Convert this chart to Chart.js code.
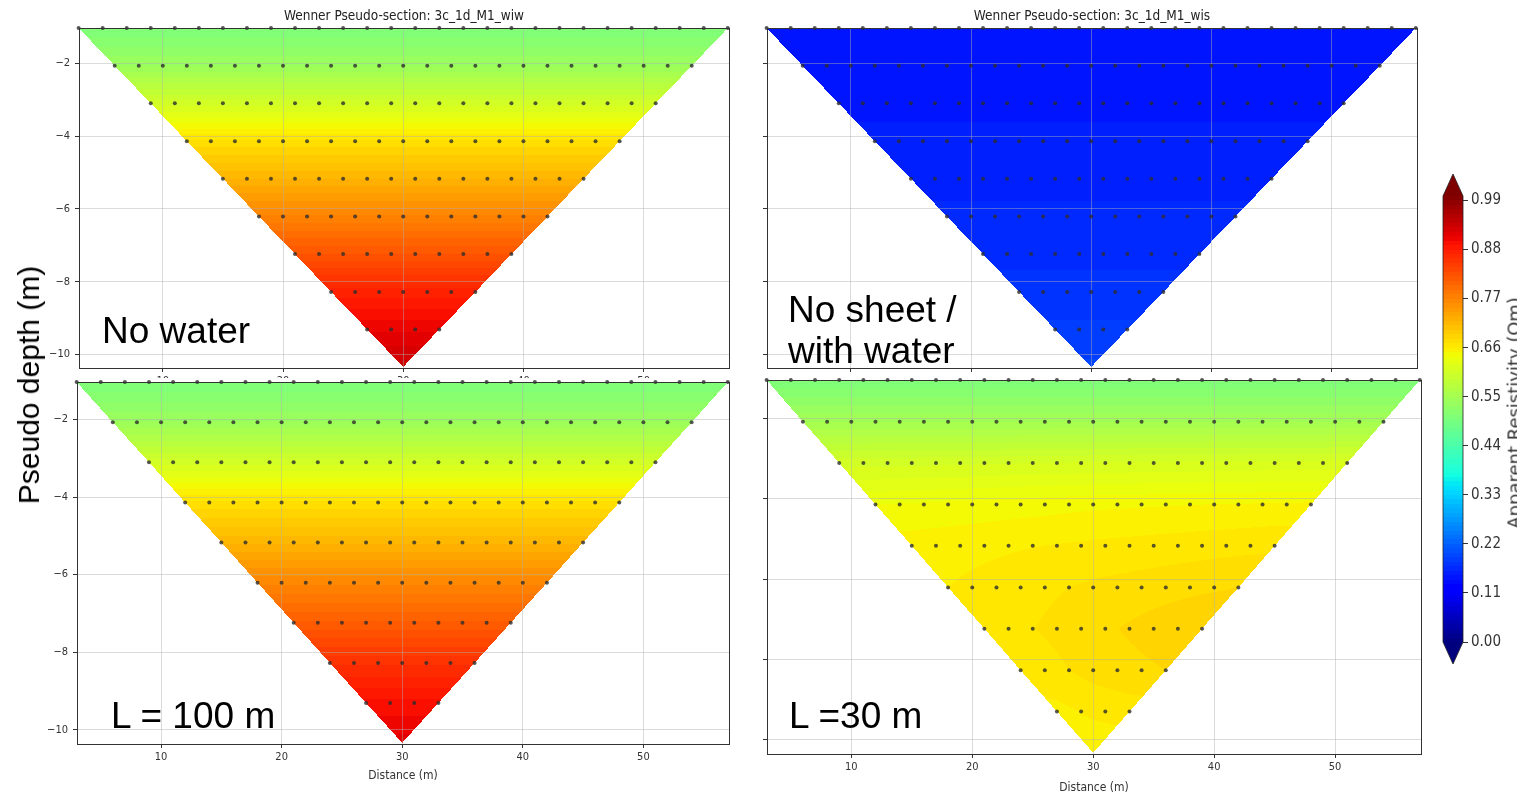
<!DOCTYPE html>
<html>
<head>
<meta charset="utf-8">
<script src="https://cdn.jsdelivr.net/npm/chart.js@4.4.0/dist/chart.umd.min.js"></script>
<style>
  body { margin: 0; background: #fff; width: 1517px; height: 796px; overflow: hidden; position: relative; }
  canvas { position: absolute; }
  .big { position: absolute; font-family: "Liberation Sans", Arial, sans-serif; font-size: 37px; line-height: 37px; color: #000; white-space: nowrap; }
  .rot { position: absolute; white-space: nowrap; transform: translate(-50%, -50%) rotate(-90deg); line-height: 1; }
</style>
</head>
<body>
<canvas id="wiw" width="740" height="378" style="left:0;top:0"></canvas>
<canvas id="wis" width="700" height="378" style="left:740px;top:0"></canvas>
<canvas id="l100" width="740" height="418" style="left:0;top:378px"></canvas>
<canvas id="l30" width="700" height="420" style="left:740px;top:376px"></canvas>
<canvas id="cb" width="97" height="540" style="left:1420px;top:150px"></canvas>

<div class="big" style="left:102px;top:312px">No water</div>
<div class="big" style="left:788px;top:291px">No sheet /</div>
<div class="big" style="left:788px;top:332px">with water</div>
<div class="big" style="left:111px;top:697px">L = 100 m</div>
<div class="big" style="left:789px;top:697px">L =30 m</div>
<div class="rot" style="left:29px;top:385px;font:30px 'Liberation Sans', Arial, sans-serif">Pseudo depth (m)</div>
<div class="rot" style="left:1514px;top:413px;font:18px 'DejaVu Sans', sans-serif;color:#333">Apparent Resistivity (Ωm)</div>

<script>
// measurement rows of the Wenner pseudo-section (row 10 is the apex, no point plotted)
const rowDepth = [-1.03, -2.07, -3.10, -4.14, -5.17, -6.21, -7.24, -8.28, -9.31, -10.34];
const rowFirst = [3, 6, 9, 12, 15, 18, 21, 24, 27, 30];
const rowLast  = [57, 54, 51, 48, 45, 42, 39, 36, 33, 30];
const pointStep = 2;
const dotRows = 9;

// apparent resistivity per row (left end, centre, right end of each row)
const wiwValues  = [0.50, 0.54, 0.605, 0.672, 0.72, 0.772, 0.82, 0.875, 0.908, 0.935];
const wisValues  = [0.142, 0.144, 0.148, 0.152, 0.157, 0.162, 0.167, 0.174, 0.182, 0.192];
const l100Values = [0.50, 0.54, 0.605, 0.672, 0.718, 0.768, 0.812, 0.858, 0.893, 0.915];
const l30Left    = [0.50, 0.55, 0.606, 0.640, 0.655, 0.660, 0.664, 0.662, 0.657, 0.652];
const l30Mid     = [0.50, 0.55, 0.611, 0.648, 0.662, 0.672, 0.677, 0.674, 0.662, 0.652];
const l30Right   = [0.50, 0.55, 0.614, 0.652, 0.668, 0.680, 0.690, 0.680, 0.665, 0.652];

const xTicks = [10, 20, 30, 40, 50];
const yTicks = [-2, -4, -6, -8, -10];
const cbTicks = [0.00, 0.11, 0.22, 0.33, 0.44, 0.55, 0.66, 0.77, 0.88, 0.99];
const cbMax = 1.0;
const levelStep = 0.01;

const tickFont = "'DejaVu Sans Condensed', 'DejaVu Sans', sans-serif";

const panels = {
  wiw:  { title: 'Wenner Pseudo-section: 3c_1d_M1_wiw', left: wiwValues, mid: wiwValues, right: wiwValues,
          w: 740, h: 378, area: { left: 79, top: 28, right: 729, bottom: 368 }, yLabels: true, xTitle: false },
  wis:  { title: 'Wenner Pseudo-section: 3c_1d_M1_wis', left: wisValues, mid: wisValues, right: wisValues,
          w: 700, h: 378, area: { left: 27, top: 28, right: 677, bottom: 368 }, yLabels: false, xTitle: false },
  l100: { title: '', left: l100Values, mid: l100Values, right: l100Values,
          w: 740, h: 418, area: { left: 77, top: 3, right: 729, bottom: 366 }, yLabels: true, xTitle: true, titlePad: 13 },
  l30:  { title: '', left: l30Left, mid: l30Mid, right: l30Right,
          w: 700, h: 420, area: { left: 27, top: 4, right: 681, bottom: 378 }, yLabels: false, xTitle: true, titlePad: 1 }
};

function interp(pts, t) {
  for (let i = 1; i < pts.length; i++) {
    if (t <= pts[i][0]) {
      const [a, ya] = pts[i - 1], [b, yb] = pts[i];
      return ya + (yb - ya) * (t - a) / (b - a);
    }
  }
  return pts[pts.length - 1][1];
}
function jet(t) {
  t = Math.min(1, Math.max(0, t));
  return [
    interp([[0, 0], [0.35, 0], [0.66, 1], [0.89, 1], [1, 0.5]], t) * 255,
    interp([[0, 0], [0.125, 0], [0.375, 1], [0.64, 1], [0.91, 0], [1, 0]], t) * 255,
    interp([[0, 0.5], [0.11, 1], [0.34, 1], [0.65, 0], [1, 0]], t) * 255
  ];
}
const clamp01 = t => Math.min(1, Math.max(0, t));
const centre = rowFirst[rowFirst.length - 1];

function rowValue(p, k, x) {
  const a = rowFirst[k], b = rowLast[k];
  if (x <= centre) {
    const t = a < centre ? clamp01((x - a) / (centre - a)) : 1;
    return p.left[k] + (p.mid[k] - p.left[k]) * t;
  }
  const t = b > centre ? clamp01((x - centre) / (b - centre)) : 0;
  return p.mid[k] + (p.right[k] - p.mid[k]) * t;
}

const fieldPlugin = {
  id: 'field',
  beforeDraw(chart) {
    const ctx = chart.ctx;
    ctx.save();
    ctx.fillStyle = '#fff';
    ctx.fillRect(0, 0, chart.width, chart.height);
    ctx.restore();
    const p = panels[chart.canvas.id];
    if (!p) return;
    const ar = chart.chartArea, xs = chart.scales.x, ys = chart.scales.y;
    const x0 = Math.floor(ar.left), y0 = Math.floor(ar.top);
    const w = Math.ceil(ar.right) - x0, h = Math.ceil(ar.bottom) - y0;
    const img = ctx.createImageData(w, h);
    const d = img.data;
    const last = rowDepth.length - 1;
    for (let j = 0; j < h; j++) {
      const y = ys.getValueForPixel(y0 + j + 0.5);
      let k = 0;
      while (k < last - 1 && y < rowDepth[k + 1]) k++;
      let f = (rowDepth[k] - y) / (rowDepth[k] - rowDepth[k + 1]);
      if (f < 0) f = 0;
      const lo = rowFirst[k] + (rowFirst[k + 1] - rowFirst[k]) * f;
      const hi = rowLast[k] + (rowLast[k + 1] - rowLast[k]) * f;
      for (let i = 0; i < w; i++) {
        const o = (j * w + i) * 4;
        const x = xs.getValueForPixel(x0 + i + 0.5);
        if (f > 1 || x < lo || x > hi) {
          d[o] = d[o + 1] = d[o + 2] = d[o + 3] = 255;
          continue;
        }
        const v = rowValue(p, k, x) * (1 - f) + rowValue(p, k + 1, x) * f;
        const q = (Math.floor(v / levelStep) + 0.5) * levelStep;
        const c = jet(q / cbMax);
        d[o] = c[0]; d[o + 1] = c[1]; d[o + 2] = c[2]; d[o + 3] = 255;
      }
    }
    ctx.putImageData(img, x0, y0);
  },
  afterDraw(chart) {
    const p = panels[chart.canvas.id];
    if (!p) return;
    const ctx = chart.ctx, ar = chart.chartArea;
    ctx.save();
    ctx.strokeStyle = '#333';
    ctx.lineWidth = 1;
    ctx.strokeRect(Math.round(ar.left) + 0.5, Math.round(ar.top) + 0.5,
                   Math.round(ar.right - ar.left), Math.round(ar.bottom - ar.top));
    if (p.title) {
      ctx.fillStyle = '#222';
      ctx.font = "13.5px " + tickFont;
      ctx.textAlign = 'center';
      ctx.textBaseline = 'middle';
      ctx.fillText(p.title, (ar.left + ar.right) / 2, 16);
    }
    ctx.restore();
  }
};

const fmt = v => (v < 0 ? '\u2212' + Math.abs(v) : String(v));
// keep Chart.js from reserving extra room for half-labels at the axis ends
const noPad = s => { s.paddingTop = 0; s.paddingBottom = 0; s.paddingLeft = 0; s.paddingRight = 0; };

function makePanel(id) {
  const p = panels[id];
  const pts = [];
  for (let r = 0; r < dotRows; r++) {
    for (let x = rowFirst[r]; x <= rowLast[r]; x += pointStep) pts.push({ x: x, y: rowDepth[r] });
  }
  return new Chart(document.getElementById(id), {
    type: 'scatter',
    data: {
      datasets: [{
        data: pts,
        pointRadius: 2,
        pointBackgroundColor: 'rgba(45,45,45,0.8)',
        pointBorderWidth: 0,
        clip: false
      }]
    },
    options: {
      responsive: false,
      animation: false,
      events: [],
      layout: { padding: { left: 0, top: p.area.top, right: p.w - p.area.right, bottom: 0 } },
      plugins: { legend: { display: false }, tooltip: { enabled: false } },
      scales: {
        x: {
          type: 'linear', min: 3.03, max: 57.1,
          afterBuildTicks: s => { s.ticks = xTicks.map(v => ({ value: v })); },
          afterFit: s => { s.height = p.h - p.area.bottom; noPad(s); },
          border: { display: false },
          grid: { color: 'rgba(176,176,176,0.45)', tickColor: '#333', tickLength: 4 },
          ticks: { autoSkip: false, maxRotation: 0, padding: 3, color: '#333',
                   font: { family: tickFont, size: 11 }, callback: v => String(v) },
          title: { display: p.xTitle, text: 'Distance (m)', color: '#333',
                   font: { family: tickFont, size: 12 }, padding: { top: 0, bottom: p.titlePad || 0 } }
        },
        y: {
          type: 'linear', min: -10.37, max: -1.03,
          afterBuildTicks: s => { s.ticks = yTicks.map(v => ({ value: v })); },
          afterFit: s => { s.width = p.area.left; noPad(s); },
          border: { display: false },
          grid: { color: 'rgba(176,176,176,0.45)', tickColor: '#333', tickLength: 4 },
          ticks: { padding: 5, color: '#333', font: { family: tickFont, size: 11 },
                   callback: v => (p.yLabels ? fmt(v) : '') }
        }
      }
    },
    plugins: [fieldPlugin]
  });
}

['wiw', 'wis', 'l100', 'l30'].forEach(makePanel);

// colour bar
const cbPlugin = {
  id: 'cbar',
  beforeDraw(chart) {
    const ctx = chart.ctx, ar = chart.chartArea, ys = chart.scales.y;
    ctx.save();
    for (let py = Math.floor(ar.top); py < Math.ceil(ar.bottom); py++) {
      const v = ys.getValueForPixel(py + 0.5);
      const q = (Math.floor(v / levelStep) + 0.5) * levelStep;
      const c = jet(q / cbMax);
      ctx.fillStyle = `rgb(${c[0] | 0},${c[1] | 0},${c[2] | 0})`;
      ctx.fillRect(ar.left, py, ar.right - ar.left, 1);
    }
    ctx.restore();
  },
  afterDraw(chart) {
    const ctx = chart.ctx, ar = chart.chartArea;
    const cx = (ar.left + ar.right) / 2, ext = 22;
    const hi = jet(1), lo = jet(0);
    ctx.save();
    ctx.fillStyle = `rgb(${hi[0] | 0},${hi[1] | 0},${hi[2] | 0})`;
    ctx.beginPath();
    ctx.moveTo(ar.left, ar.top); ctx.lineTo(cx, ar.top - ext); ctx.lineTo(ar.right, ar.top); ctx.closePath();
    ctx.fill();
    ctx.fillStyle = `rgb(${lo[0] | 0},${lo[1] | 0},${lo[2] | 0})`;
    ctx.beginPath();
    ctx.moveTo(ar.left, ar.bottom); ctx.lineTo(cx, ar.bottom + ext); ctx.lineTo(ar.right, ar.bottom); ctx.closePath();
    ctx.fill();
    ctx.strokeStyle = '#222';
    ctx.lineWidth = 0.8;
    ctx.beginPath();
    ctx.moveTo(ar.left, ar.top); ctx.lineTo(cx, ar.top - ext); ctx.lineTo(ar.right, ar.top);
    ctx.lineTo(ar.right, ar.bottom); ctx.lineTo(cx, ar.bottom + ext); ctx.lineTo(ar.left, ar.bottom);
    ctx.closePath();
    ctx.stroke();
    ctx.restore();
  }
};

new Chart(document.getElementById('cb'), {
  type: 'scatter',
  data: { datasets: [] },
  options: {
    responsive: false,
    animation: false,
    events: [],
    layout: { padding: { left: 23, top: 46, right: 0, bottom: 48 } },
    plugins: { legend: { display: false }, tooltip: { enabled: false } },
    scales: {
      x: { display: false, min: 0, max: 1 },
      y: {
        position: 'right', min: 0, max: cbMax,
        afterBuildTicks: s => { s.ticks = cbTicks.map(v => ({ value: v })); },
        afterFit: s => { s.width = 54; noPad(s); },
        border: { display: false },
        grid: { drawOnChartArea: false, tickColor: '#333', tickLength: 5 },
        ticks: { padding: 3, color: '#333', font: { family: tickFont, size: 15 }, callback: v => v.toFixed(2) }
      }
    }
  },
  plugins: [cbPlugin]
});
</script>
</body>
</html>
